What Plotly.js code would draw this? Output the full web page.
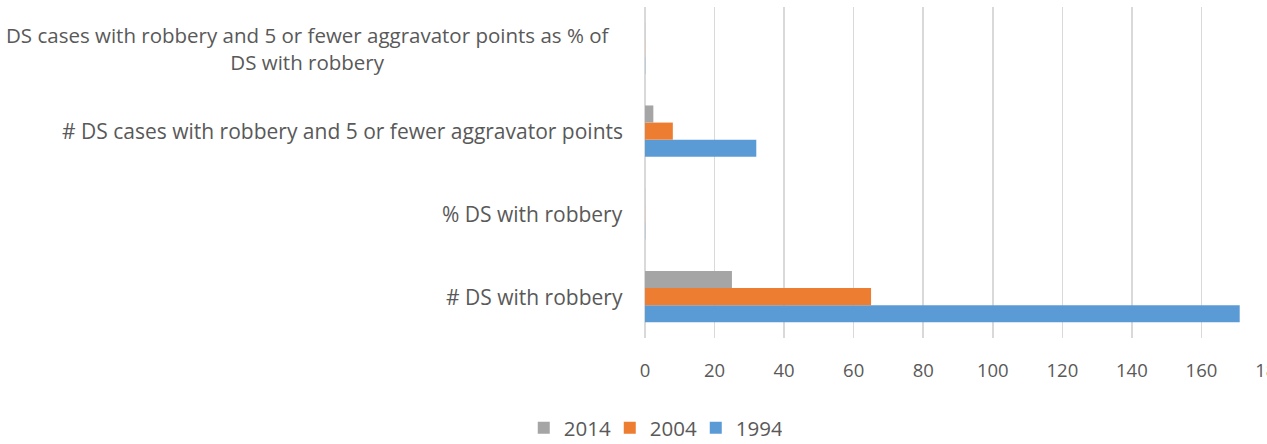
<!DOCTYPE html>
<html>
<head>
<meta charset="utf-8">
<script src="https://cdn.plot.ly/plotly-3.0.1.min.js"></script>
<style>
  html, body { margin: 0; padding: 0; background: #fff; overflow: hidden; }
  #chart { width: 1300px; height: 444px; }
</style>
</head>
<body>
<div id="chart"></div>
<script>
const categories = [
  '# DS with robbery',
  '% DS with robbery',
  '# DS cases with robbery and 5 or fewer aggravator points',
  'DS cases with robbery and 5 or fewer aggravator points as % of<br>DS with robbery',
];
const years = ['1994', '2004', '2014'];
const values1994 = [171, 0.06, 32, 0.06];
const values2004 = [65, 0.04, 8, 0.04];
const values2014 = [25, 0.03, 2.4, 0.03];
const colors = ['#5B9BD5', '#ED7D31', '#A5A5A5'];
const xTicks = [0, 20, 40, 60, 80, 100, 120, 140, 160, 180];

const textColor = '#595959';
const family = '"Open Sans", sans-serif';
const labelFont = { family, size: 21, color: textColor };
const wrappedLabelFont = { family, size: 20.5, color: textColor };
const tickFont = { family, size: 18.5, color: textColor };
const legendFont = { family, size: 20.5, color: textColor };

const traces = [values1994, values2004, values2014].map((vals, i) => ({
  type: 'bar',
  orientation: 'h',
  name: years[i],
  y: categories,
  x: vals,
  marker: { color: colors[i], line: { width: 0 } },
}));

// category labels drawn as annotations so the wrapped one can be centred
const labels = categories.map((cat) => {
  const wrapped = cat.includes('<br>');
  return {
    xref: 'paper',
    yref: 'y',
    x: 0,
    y: cat,
    text: cat,
    showarrow: false,
    xanchor: 'right',
    align: 'center',
    xshift: wrapped ? -33 : -20,
    font: wrapped ? wrappedLabelFont : labelFont,
  };
});

Plotly.newPlot('chart', traces, {
  width: 1300,
  height: 444,
  margin: { l: 645, r: 29, t: 7, b: 106 },
  paper_bgcolor: '#fff',
  plot_bgcolor: '#fff',
  barmode: 'group',
  bargap: 0.38,
  bargroupgap: 0,
  font: tickFont,
  showlegend: true,
  legend: {
    orientation: 'h',
    traceorder: 'reversed',
    xref: 'paper',
    x: 0.0124,
    xanchor: 'center',
    yref: 'container',
    y: 0.036,
    yanchor: 'middle',
    entrywidth: 41,
    font: legendFont,
  },
  xaxis: {
    range: [0, 180],
    tickvals: xTicks,
    ticktext: xTicks.map(String),
    showgrid: true,
    gridcolor: '#d9d9d9',
    gridwidth: 1.5,
    zeroline: true,
    zerolinecolor: '#d9d9d9',
    zerolinewidth: 1.5,
    showline: false,
    ticks: '',
    ticklabelstandoff: 19,
    tickfont: tickFont,
    automargin: false,
  },
  yaxis: {
    type: 'category',
    showticklabels: false,
    showgrid: false,
    zeroline: false,
    showline: false,
    ticks: '',
    automargin: false,
  },
  annotations: labels,
}, { displayModeBar: false, staticPlot: true });
</script>
</body>
</html>
